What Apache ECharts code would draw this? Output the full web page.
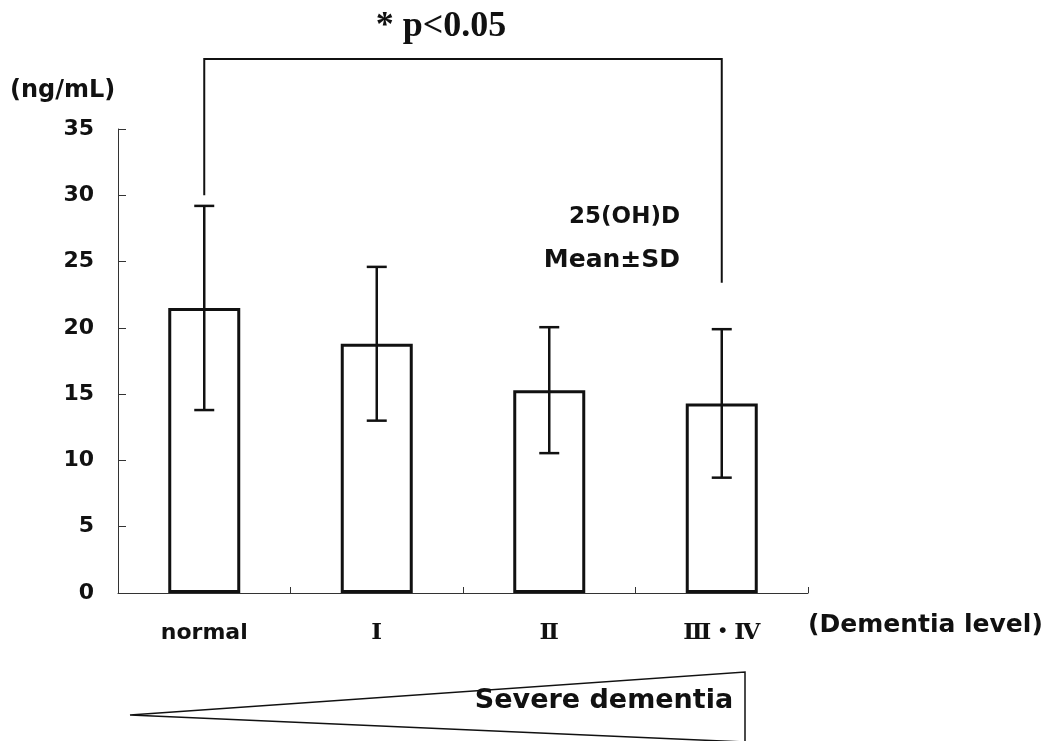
<!DOCTYPE html>
<html>
<head>
<meta charset="utf-8">
<script src="https://cdn.jsdelivr.net/npm/echarts@6/dist/echarts.min.js"></script>
<style>
html, body { margin: 0; padding: 0; background: #fff; }
#chart { width: 1043px; height: 741px; }
</style>
</head>
<body>
<div id="chart"></div>
<script>
// data (25(OH)D, ng/mL, mean ± SD)
const categories = ['normal', 'Ⅰ', 'Ⅱ', 'Ⅲ・Ⅳ']
const means = [21.5, 18.8, 15.3, 14.3]
const sds = [7.7, 5.8, 4.75, 5.6]
const yMin = 0
const yMax = 35
const yStep = 5

// significance bracket: from category 0 to category 3, ends in value space
const bracketFrom = 0
const bracketTo = 3
const bracketLeftEnd = 30
const bracketRightEnd = 23.4

const sansFont = '"DejaVu Sans", "Noto Sans", sans-serif'
const ink = '#111'

const chart = echarts.init(document.getElementById('chart'))

const options = {
  backgroundColor: '#fff',
  animation: false,
  grid: {
    left: 118,
    right: 235,
    top: 129,
    bottom: 148
  },
  xAxis: {
    type: 'category',
    data: categories,
    axisLine: { lineStyle: { color: '#333', width: 1 } },
    axisTick: { show: true, inside: true, length: 6, lineStyle: { color: '#333' } },
    axisLabel: {
      margin: 29,
      formatter: (v, i) => (i === 0 ? '{s|' + v + '}' : '{r|' + v + '}'),
      rich: {
        s: {
          color: ink,
          fontSize: 22,
          fontWeight: 'bold',
          fontFamily: sansFont
        },
        r: {
          color: ink,
          fontSize: 23,
          fontWeight: 'bold',
          fontFamily: '"DejaVu Serif", "Noto Sans CJK JP", serif'
        }
      }
    }
  },
  yAxis: {
    type: 'value',
    min: yMin,
    max: yMax,
    interval: yStep,
    axisLine: { show: true, lineStyle: { color: '#333', width: 1 } },
    axisTick: { show: true, inside: true, length: 8, lineStyle: { color: '#333' } },
    splitLine: { show: false },
    axisLabel: {
      margin: 24,
      color: ink,
      fontSize: 22,
      fontWeight: 'bold',
      fontFamily: sansFont,
      padding: [14, 0, 0, 0]
    }
  },
  series: [
    {
      type: 'bar',
      data: means,
      barWidth: 72,
      itemStyle: {
        color: '#fff',
        borderColor: ink,
        borderWidth: 3
      },
      z: 2
    },
    {
      // error bars (mean ± SD)
      type: 'custom',
      data: categories.map((c, i) => [i, means[i], sds[i]]),
      z: 3,
      renderItem (params, api) {
        const idx = api.value(0)
        const mean = api.value(1)
        const sd = api.value(2)
        const hi = api.coord([idx, mean + sd])
        const lo = api.coord([idx, mean - sd])
        const cap = 10
        const style = { stroke: ink, lineWidth: 2.5 }
        return {
          type: 'group',
          children: [
            { type: 'line', shape: { x1: hi[0], y1: hi[1], x2: lo[0], y2: lo[1] }, style },
            { type: 'line', shape: { x1: hi[0] - cap, y1: hi[1], x2: hi[0] + cap, y2: hi[1] }, style },
            { type: 'line', shape: { x1: lo[0] - cap, y1: lo[1], x2: lo[0] + cap, y2: lo[1] }, style }
          ]
        }
      }
    }
  ]
}

chart.setOption(options, true)

// annotations placed against the axes
const pL = chart.convertToPixel({ gridIndex: 0 }, [bracketFrom, bracketLeftEnd])
const pR = chart.convertToPixel({ gridIndex: 0 }, [bracketTo, bracketRightEnd])
const bracketTop = 59

chart.setOption({
  graphic: [
    {
      type: 'polyline',
      shape: { points: [[pL[0], pL[1]], [pL[0], bracketTop], [pR[0], bracketTop], [pR[0], pR[1]]] },
      style: { stroke: ink, lineWidth: 2, fill: null }
    },
    {
      type: 'text',
      x: (pL[0] + pR[0]) / 2 - 22,
      y: 27,
      style: {
        text: '* p<0.05',
        fontFamily: '"Liberation Serif", "Times New Roman", serif',
        fontWeight: 'bold',
        fontSize: 36,
        fill: ink,
        align: 'center',
        verticalAlign: 'middle'
      }
    },
    {
      type: 'text',
      x: 10,
      y: 91,
      style: {
        text: '(ng/mL)',
        font: 'bold 24px ' + sansFont,
        fill: ink,
        verticalAlign: 'middle'
      }
    },
    {
      type: 'text',
      x: 680,
      y: 217,
      style: {
        text: '25(OH)D',
        font: 'bold 23px ' + sansFont,
        fill: ink,
        align: 'right',
        verticalAlign: 'middle'
      }
    },
    {
      type: 'text',
      x: 680,
      y: 260,
      style: {
        text: 'Mean±SD',
        font: 'bold 25px ' + sansFont,
        fill: ink,
        align: 'right',
        verticalAlign: 'middle'
      }
    },
    {
      type: 'text',
      x: 808,
      y: 625,
      style: {
        text: '(Dementia level)',
        font: 'bold 25px ' + sansFont,
        fill: ink,
        verticalAlign: 'middle'
      }
    },
    {
      type: 'polygon',
      shape: { points: [[130, 715], [745, 672], [745, 742]] },
      style: { stroke: ink, lineWidth: 1.5, fill: '#fff' }
    },
    {
      type: 'text',
      x: 604,
      y: 701,
      style: {
        text: 'Severe dementia',
        font: 'bold 27px ' + sansFont,
        fill: ink,
        align: 'center',
        verticalAlign: 'middle'
      }
    }
  ]
})
</script>
</body>
</html>
